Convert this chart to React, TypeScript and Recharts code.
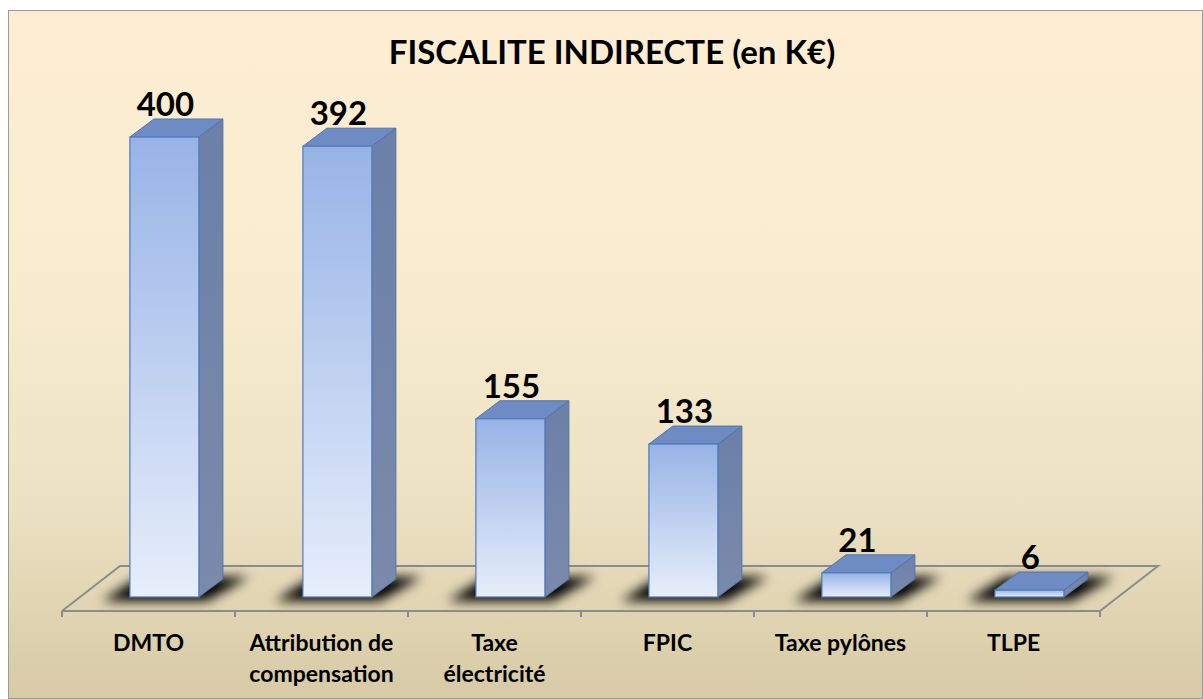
import { BarChart, Bar, XAxis, YAxis, LabelList, ReferenceArea } from 'recharts';

const categories = ['DMTO', 'Attribution de\ncompensation', 'Taxe\nélectricité', 'FPIC', 'Taxe pylônes', 'TLPE'];
const amounts = [400, 392, 155, 133, 21, 6];
const valueDomain = [0, 400];

const data = categories.map((name, i) => ({ name, value: amounts[i] }));

const FONT = 'Lato, "Open Sans", sans-serif';

// bars stand a bit back on the floor
const SET_X = 16;
const SET_Y = -14;
// depth of each bar
const DEPTH_X = 24;
const DEPTH_Y = -18;
// depth of the floor
const FLOOR_X = 58;
const FLOOR_Y = -45;

function Bar3D(props: any) {
  const { x, y, width, height } = props;
  const fx = x + SET_X;
  const fy = y + SET_Y;
  const bottom = fy + height;
  const shadow = [
    [fx - 28, bottom + 4],
    [fx + width + 8, bottom + 4],
    [fx + width + DEPTH_X + 26, bottom + DEPTH_Y - 2],
    [fx + DEPTH_X - 14, bottom + DEPTH_Y - 2],
  ];
  const top = [
    [fx, fy],
    [fx + DEPTH_X, fy + DEPTH_Y],
    [fx + width + DEPTH_X, fy + DEPTH_Y],
    [fx + width, fy],
  ];
  const side = [
    [fx + width, fy],
    [fx + width + DEPTH_X, fy + DEPTH_Y],
    [fx + width + DEPTH_X, bottom + DEPTH_Y],
    [fx + width, bottom],
  ];
  const pts = (p: number[][]) => p.map((q) => q.join(',')).join(' ');
  return (
    <g>
      <polygon points={pts(shadow)} fill="#000" filter="url(#shadowBlur)" />
      <polygon points={pts(side)} fill="url(#sideGrad)" stroke="#4F76B0" strokeWidth={1} />
      <polygon points={pts(top)} fill="#6E8CC3" stroke="#4F76B0" strokeWidth={1} />
      <rect x={fx} y={fy} width={width} height={height} fill="url(#frontGrad)" stroke="#4F7BBC" strokeWidth={1.2} />
    </g>
  );
}

function Floor(props: any) {
  const { x, y, width, height } = props;
  const bottom = y + height;
  const n = categories.length;
  const ticks = [];
  for (let i = 0; i <= n; i++) {
    const tx = x + (width * i) / n;
    ticks.push(<line key={i} x1={tx} y1={bottom} x2={tx} y2={bottom + 6} stroke="#8C8C8C" strokeWidth={2} />);
  }
  return (
    <g>
      <polyline
        points={`${x},${bottom} ${x + FLOOR_X},${bottom + FLOOR_Y} ${x + width + FLOOR_X},${bottom + FLOOR_Y} ${x + width},${bottom}`}
        fill="none"
        stroke="#8C8C8C"
        strokeWidth={2}
      />
      {ticks}
    </g>
  );
}

function ValueLabel(props: any) {
  const { x, y, width, value } = props;
  return (
    <text
      x={x + SET_X + width / 2 + 1}
      y={y + SET_Y - 21}
      textAnchor="middle"
      fontFamily={FONT}
      fontWeight={700}
      fontSize={33}
      fill="#000"
    >
      {value}
    </text>
  );
}

function CategoryTick(props: any) {
  const { x, y, payload } = props;
  const lines = String(payload.value).split('\n');
  return (
    <text x={x} y={y} textAnchor="middle" fontFamily={FONT} fontWeight={700} fontSize={23} fill="#000">
      {lines.map((l, i) => (
        <tspan key={i} x={x} dy={i === 0 ? 40 : 31}>
          {l}
        </tspan>
      ))}
    </text>
  );
}

export default function App() {
  return (
    <div
      style={{
        position: 'absolute',
        left: 8,
        top: 10,
        width: 1195,
        height: 689,
        boxSizing: 'border-box',
        border: '1px solid #9A9A9A',
        background: 'linear-gradient(to bottom, #FDEED3 0%, #F9ECCE 40%, #EDE2C4 70%, #D7CAA5 100%)',
        overflow: 'hidden',
      }}
    >
      <svg width={0} height={0} style={{ position: 'absolute' }}>
        <defs>
          <linearGradient id="frontGrad" x1="0" y1="0" x2="0" y2="1">
            <stop offset="0%" stopColor="#97B3E6" />
            <stop offset="100%" stopColor="#E7EEFB" />
          </linearGradient>
          <linearGradient id="sideGrad" x1="0" y1="0" x2="0" y2="1">
            <stop offset="0%" stopColor="#6C80A8" />
            <stop offset="100%" stopColor="#7A8AAB" />
          </linearGradient>
          <filter id="shadowBlur" x="-50%" y="-150%" width="200%" height="400%">
            <feGaussianBlur stdDeviation="6" />
          </filter>
        </defs>
      </svg>
      <div
        style={{
          position: 'absolute',
          left: 0,
          width: 1206,
          top: 20,
          textAlign: 'center',
          fontFamily: FONT,
          fontWeight: 700,
          fontSize: 33,
          lineHeight: '40px',
          color: '#000',
        }}
      >
        FISCALITE INDIRECTE (en K€)
      </div>
      <BarChart
        width={1193}
        height={687}
        data={data}
        margin={{ top: 140, right: 102, bottom: 7, left: 53 }}
        barCategoryGap="30%"
      >
        <YAxis hide domain={valueDomain} />
        <ReferenceArea x1={categories[0]} x2={categories[categories.length - 1]} shape={<Floor />} />
        <XAxis
          dataKey="name"
          height={80}
          tickLine={false}
          tickSize={0}
          tickMargin={0}
          axisLine={{ stroke: '#8C8C8C', strokeWidth: 2 }}
          tick={<CategoryTick />}
          interval={0}
        />
        <Bar dataKey="value" shape={<Bar3D />} isAnimationActive={false}>
          <LabelList dataKey="value" content={<ValueLabel />} />
        </Bar>
      </BarChart>
    </div>
  );
}
